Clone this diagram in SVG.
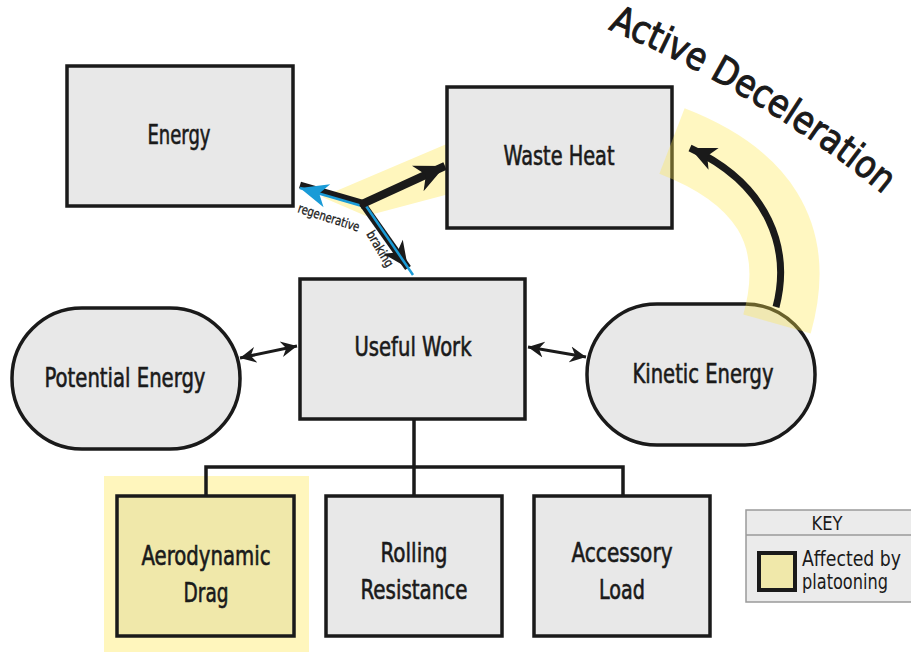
<svg xmlns="http://www.w3.org/2000/svg" width="911" height="654" viewBox="0 0 911 654">
<style>
text{font-family:"DejaVu Sans Condensed","Liberation Sans Narrow","Liberation Sans",sans-serif;fill:#1a1a1a}
.box{fill:#e8e8e8;stroke:#1a1a1a;stroke-width:3.5}
.lbl{font-size:27px;text-anchor:middle;stroke:#1a1a1a;stroke-width:0.6}
.hl{fill:#fff6bd}
.tree{fill:none;stroke:#1a1a1a;stroke-width:3.5}
.dbl{fill:none;stroke:#1a1a1a;stroke-width:3}
</style>
<defs>
<marker id="ah" markerUnits="userSpaceOnUse" viewBox="-30 -15 32 30" markerWidth="32" markerHeight="30" refX="0" refY="0" orient="auto">
<path d="M0,0 L-30,-14 L-21,0 L-30,14 Z" fill="#1a1a1a"/>
</marker>
<marker id="ahs" markerUnits="userSpaceOnUse" viewBox="-16 -9 18 18" markerWidth="18" markerHeight="18" refX="0" refY="0" orient="auto-start-reverse">
<path d="M0,0 L-16,-8 L-11,0 L-16,8 Z" fill="#1a1a1a"/>
</marker>
<marker id="ahb" markerUnits="userSpaceOnUse" viewBox="-30 -15 32 30" markerWidth="32" markerHeight="30" refX="0" refY="0" orient="auto">
<path d="M0,0 L-28,-12 L-20,0 L-28,12 Z" fill="#1a9bd7"/>
</marker>
<marker id="ahk" markerUnits="userSpaceOnUse" viewBox="-30 -15 32 30" markerWidth="32" markerHeight="30" refX="0" refY="0" orient="auto">
<path d="M0,0 L-26,-12 L-19,0 L-26,12 Z" fill="#1a1a1a"/>
</marker>
</defs>

<!-- highlights -->
<rect class="hl" x="104" y="476" width="205" height="176"/>
<polygon class="hl" points="322,197 449,143 449,194 366,216"/>

<!-- nodes -->
<g id="energy">
<rect class="box" x="67" y="66" width="226" height="140"/>
<text class="lbl" x="179" y="144" textLength="63" lengthAdjust="spacingAndGlyphs">Energy</text>
</g>
<g id="waste-heat">
<rect class="box" x="447" y="87" width="225" height="141"/>
<text class="lbl" x="559" y="165" textLength="111" lengthAdjust="spacingAndGlyphs">Waste Heat</text>
</g>
<g id="useful-work">
<rect class="box" x="300" y="279" width="225" height="140"/>
<text class="lbl" x="413" y="356" textLength="117" lengthAdjust="spacingAndGlyphs">Useful Work</text>
</g>
<g id="potential-energy">
<rect class="box" x="12" y="308" width="228" height="141" rx="70" ry="70"/>
<text class="lbl" x="125" y="387" textLength="161" lengthAdjust="spacingAndGlyphs">Potential Energy</text>
</g>
<g id="kinetic-energy">
<rect class="box" x="587" y="304" width="228" height="141" rx="70" ry="70"/>
<text class="lbl" x="703" y="383" textLength="141" lengthAdjust="spacingAndGlyphs">Kinetic Energy</text>
</g>
<g id="aerodynamic-drag">
<rect class="box" x="117" y="496" width="177" height="140" style="fill:#f0e8aa"/>
<text class="lbl" x="206" y="565" textLength="129" lengthAdjust="spacingAndGlyphs">Aerodynamic</text>
<text class="lbl" x="206" y="602" textLength="45" lengthAdjust="spacingAndGlyphs">Drag</text>
</g>
<g id="rolling-resistance">
<rect class="box" x="326" y="496" width="176" height="140"/>
<text class="lbl" x="414" y="562" textLength="67" lengthAdjust="spacingAndGlyphs">Rolling</text>
<text class="lbl" x="414" y="599" textLength="107" lengthAdjust="spacingAndGlyphs">Resistance</text>
</g>
<g id="accessory-load">
<rect class="box" x="534" y="496" width="176" height="140"/>
<text class="lbl" x="622" y="562" textLength="101" lengthAdjust="spacingAndGlyphs">Accessory</text>
<text class="lbl" x="622" y="599" textLength="46" lengthAdjust="spacingAndGlyphs">Load</text>
</g>

<!-- active deceleration band (over kinetic node) -->
<path d="M672,141 C760,175 803,232 777,324" fill="none" stroke="#ffe94d" stroke-opacity="0.35" stroke-width="70"/>

<g id="connectors">
<path class="tree" d="M414,419 V467 M206,496 V467 H623 V496 M414,467 V496"/>
<line class="dbl" x1="240" y1="358" x2="297" y2="346" marker-start="url(#ahs)" marker-end="url(#ahs)"/>
<line class="dbl" x1="528" y1="347" x2="586" y2="357" marker-start="url(#ahs)" marker-end="url(#ahs)"/>
<!-- regenerative braking -->
<line x1="362" y1="203" x2="300" y2="185" stroke="#1a1a1a" stroke-width="7"/>
<line x1="362" y1="206" x2="300" y2="188" stroke="#1a9bd7" stroke-width="2.5" marker-end="url(#ahb)"/>
<line x1="362" y1="203" x2="408" y2="268" stroke="#1a1a1a" stroke-width="7" marker-end="url(#ahk)"/>
<line x1="364" y1="203" x2="413" y2="275" stroke="#1a9bd7" stroke-width="2.5"/>
<line x1="360" y1="205" x2="445" y2="166" stroke="#1a1a1a" stroke-width="8" marker-end="url(#ah)"/>
<!-- active deceleration arrow -->
<path d="M776,307 C791,250 770,185 690,148" fill="none" stroke="#1a1a1a" stroke-width="7" marker-end="url(#ahk)"/>
</g>

<text font-size="13" stroke="#1a1a1a" stroke-width="0.3" transform="translate(297,212) rotate(18)" textLength="64" lengthAdjust="spacingAndGlyphs">regenerative</text>
<text font-size="13" stroke="#1a1a1a" stroke-width="0.3" transform="translate(366,234) rotate(59)" textLength="40" lengthAdjust="spacingAndGlyphs">braking</text>

<path id="adpath" d="M608,29 Q767,96 897,206" fill="none"/>
<text font-size="38" stroke="#1a1a1a" stroke-width="1"><textPath href="#adpath" textLength="322" lengthAdjust="spacingAndGlyphs">Active Deceleration</textPath></text>

<g id="key">
<rect x="746" y="510" width="170" height="92" fill="#ebebeb" stroke="#9a9a9a" stroke-width="1.5"/>
<line x1="746" y1="535" x2="911" y2="535" stroke="#9a9a9a" stroke-width="1.5"/>
<text x="827" y="530" font-size="20" text-anchor="middle" textLength="31" lengthAdjust="spacingAndGlyphs">KEY</text>
<rect x="759" y="553" width="36" height="37" fill="#f0e8aa" stroke="#1a1a1a" stroke-width="4"/>
<text x="802" y="566" font-size="21" textLength="99" lengthAdjust="spacingAndGlyphs">Affected by</text>
<text x="802" y="589" font-size="21" textLength="86" lengthAdjust="spacingAndGlyphs">platooning</text>
</g>
</svg>
